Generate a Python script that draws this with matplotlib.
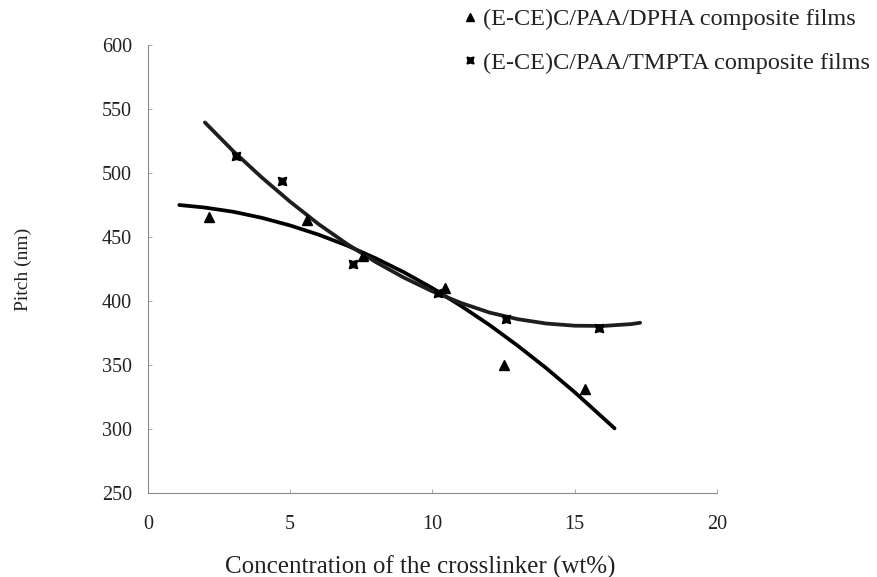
import matplotlib.pyplot as plt
from matplotlib.lines import Line2D

plt.rcParams['font.family'] = ['Liberation Serif', 'DejaVu Serif']
plt.rcParams['figure.dpi'] = 100

# measured points
dpha_x = [2.15, 5.6, 7.55, 10.45, 12.5, 15.35]
dpha_y = [466, 463, 435, 410, 350, 331]
tmpta_x = [3.1, 4.7, 7.2, 10.2, 12.6, 15.85]
tmpta_y = [513, 494, 429, 406, 386, 379]

# trendlines
dpha_fit_x = [1.1, 2, 3, 4, 5, 6, 7, 8, 9, 10, 11, 12, 13, 14, 15, 16, 16.4]
dpha_fit_y = [475, 473, 469.7, 465, 459, 451.8, 443.3, 433.4, 422.4, 410, 396.2,
              381.3, 365, 347.5, 328.7, 308.6, 300.5]
tmpta_fit_x = [2.0, 3, 4, 5, 6, 7, 8, 9, 10, 11, 12, 13, 14, 15, 16, 17, 17.3]
tmpta_fit_y = [539.5, 517, 496.5, 477.5, 460, 444.5, 430.5, 418.2, 407.5, 398.5,
               391, 385.8, 382.4, 380.7, 380.5, 382, 383]

labels = ['(E-CE)C/PAA/DPHA composite films', '(E-CE)C/PAA/TMPTA composite films']
star = (4, 1, 45)

fig = plt.figure(figsize=(8.78, 5.77))
ax = fig.add_axes([148 / 878, 1 - 493 / 577, 569 / 878, 448 / 577])

ax.plot(dpha_fit_x, dpha_fit_y, color='black', lw=2.7, solid_capstyle='round')
ax.plot(tmpta_fit_x, tmpta_fit_y, color='#1e1e1e', lw=2.7, solid_capstyle='round')
ax.plot(dpha_x, dpha_y, ls='none', marker='^', ms=7, color='black')
ax.plot(tmpta_x, tmpta_y, ls='none', marker=star, ms=8.5, color='black')

ax.set_xlim(0, 20)
ax.set_ylim(250, 600)
ax.set_xticks([0, 5, 10, 15, 20])
ax.set_yticks(range(250, 601, 50))

for s in ['top', 'right']:
    ax.spines[s].set_visible(False)
for s in ['left', 'bottom']:
    ax.spines[s].set_color('#8a8a8a')
    ax.spines[s].set_linewidth(0.8)
    ax.spines[s].set_linestyle((0, (5, 1)))

ax.tick_params(axis='both', direction='in', length=3, width=0.6, color='#9a9a9a',
               labelsize=14.5, labelcolor='#222222')
ax.tick_params(axis='x', pad=16)
ax.tick_params(axis='y', pad=11.5)

ax.set_xlabel('Concentration of the crosslinker (wt%)', fontsize=18, color='#222222')
ax.xaxis.set_label_coords((420 - 148) / 569, (493 - 567) / 448)
ax.xaxis.label.set_va('center')
ax.set_ylabel('Pitch (nm)', fontsize=14, color='#222222')
ax.yaxis.set_label_coords((23 - 148) / 569, 0.5)
ax.yaxis.label.set_va('center')

handles = [Line2D([], [], ls='none', marker='^', ms=6, color='black'),
           Line2D([], [], ls='none', marker=star, ms=7, color='black')]
fig.legend(handles, labels, loc='center left', bbox_to_anchor=(460 / 878, 1 - 41 / 577),
           frameon=False, fontsize=17.5, handlelength=0.8, handletextpad=0.15,
           labelspacing=0.9, borderpad=0, borderaxespad=0, labelcolor='#222222')

fig.savefig('out.png', dpi=100)
